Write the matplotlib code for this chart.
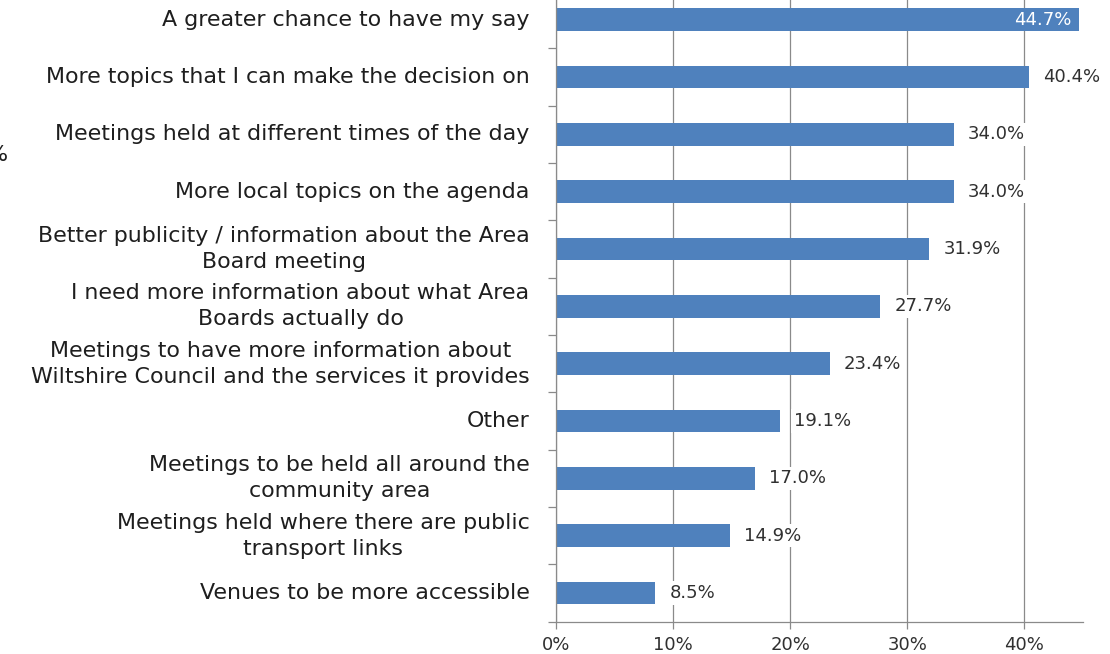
import matplotlib
matplotlib.use("Agg")
import matplotlib.pyplot as plt
from matplotlib.ticker import FuncFormatter

# Survey: what would encourage people to attend Area Board meetings
categories = [
    "A greater chance to have my say",
    "More topics that I can make the decision on",
    "Meetings held at different times of the day",
    "More local topics on the agenda",
    "Better publicity / information about the Area\nBoard meeting",
    "I need more information about what Area\nBoards actually do",
    "Meetings to have more information about\nWiltshire Council and the services it provides",
    "Other",
    "Meetings to be held all around the\ncommunity area",
    "Meetings held where there are public\ntransport links",
    "Venues to be more accessible",
]
percentages = [44.7, 40.4, 34.0, 34.0, 31.9, 27.7, 23.4, 19.1, 17.0, 14.9, 8.5]
x_ticks = [0, 10, 20, 30, 40]

BAR = "#4F81BD"
GRID = "#8A8A8A"
CAT_FONT = "DejaVu Sans"
NUM_FONT = "DejaVu Sans"
CAT_SIZE = 15.9
NUM_SIZE = 13.0

fig = plt.figure(figsize=(11.10, 6.54), dpi=100)
ax = fig.add_axes([0.5009, 0.04939, 0.4745, 0.96433])

positions = list(range(len(categories)))
ax.barh(positions, percentages, height=0.4, color=BAR, edgecolor="none", zorder=2)

ax.set_xlim(0, 45)
ax.set_ylim(len(categories) - 0.5, -0.5)

# vertical gridlines at the major ticks
ax.set_xticks(x_ticks)
ax.xaxis.set_major_formatter(FuncFormatter(lambda v, p: f"{v:.0f}%"))
ax.grid(axis="x", color=GRID, linewidth=0.9, zorder=0)
ax.set_axisbelow(True)

# category axis: labels at bar centres, tick marks at the boundaries
ax.set_yticks(positions)
ax.set_yticklabels(categories)
ax.tick_params(axis="y", which="major", length=0, pad=19)
ax.set_yticks([p - 0.5 for p in positions] + [len(categories) - 0.5], minor=True)
ax.tick_params(axis="y", which="minor", length=6, width=0.9, color=GRID, direction="out")
for lab in ax.get_yticklabels():
    lab.set_fontfamily(CAT_FONT)
    lab.set_fontsize(CAT_SIZE)
    lab.set_color("#1E1E1E")
    lab.set_multialignment("center")
    lab.set_linespacing(1.37)
    lab.set_verticalalignment("center")

ax.tick_params(axis="x", length=5, width=0.9, color=GRID, direction="out", pad=5,
               labelsize=NUM_SIZE, labelcolor="#303030")
for lab in ax.get_xticklabels():
    lab.set_fontfamily(NUM_FONT)

for side in ("top", "right"):
    ax.spines[side].set_visible(False)
for side in ("left", "bottom"):
    ax.spines[side].set_color(GRID)
    ax.spines[side].set_linewidth(0.9)

# value labels; one that would run past the figure edge goes inside its bar
room = 47.0
for y, v in zip(positions, percentages):
    txt = f"{v:.1f}%"
    if v + 6.4 > room:
        ax.text(v - 0.7, y, txt, ha="right", va="center", fontsize=NUM_SIZE,
                family=NUM_FONT, color="white", zorder=4)
    else:
        ax.text(v + 1.2, y, txt, ha="left", va="center", fontsize=NUM_SIZE,
                family=NUM_FONT, color="#303030", zorder=3, clip_on=False,
                bbox=dict(boxstyle="square,pad=0.15", fc="white", ec="none"))

# axis title, mostly beyond the left edge of the figure
fig.text(0.0075, 1 - 155 / 654, "%", ha="right", va="center", fontsize=CAT_SIZE,
         family=CAT_FONT, color="#1E1E1E")

fig.savefig("out.png", dpi=100, facecolor="white")
